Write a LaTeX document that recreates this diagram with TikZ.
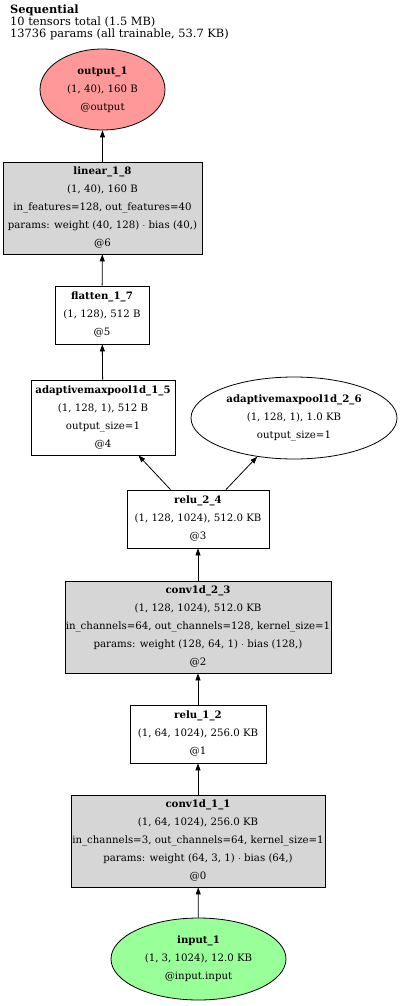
\documentclass[tikz,border=0pt]{standalone}
\usepackage{fontspec}
\setmainfont{DejaVu Serif}
\usetikzlibrary{arrows.meta,shapes.geometric}
\definecolor{fillOut}{HTML}{FF9999}
\definecolor{fillIn}{HTML}{99FF99}
\definecolor{fillParam}{HTML}{D6D6D6}
\definecolor{lineDark}{HTML}{000000}
\newcommand{\tline}[1]{\makebox[0pt]{#1}}

\begin{document}
\begin{tikzpicture}[x=1pt,y=-1pt,
          every node/.style={font=\fontsize{10.2pt}{18pt}\selectfont,
                             align=center,inner sep=0pt},
          layer/.style={draw=lineDark,line width=0.8pt,rectangle},
          paramlayer/.style={layer,fill=fillParam},
          tensor/.style={draw=lineDark,line width=0.8pt,ellipse},
          edge/.style={draw=lineDark,line width=0.8pt,
                       -{Triangle[length=7pt,width=5pt]}},
        ]
        \useasboundingbox (0,0) rectangle (400,1006);
        \node[anchor=north west,align=left,
              font=\fontsize{11.4pt}{12pt}\selectfont] (title) at (10,5)
             {\textbf{Sequential}\\10 tensors total (1.5 MB)\\13736 params (all trainable, 53.7 KB)};
        \node[tensor,fill=fillOut,minimum width=125pt,minimum height=81pt] (out1) at (102.5,89.5)
             {\tline{\textbf{output\_1}}\\\tline{(1, 40), 160 B}\\\tline{@output}};
        \node[paramlayer,minimum width=199pt,minimum height=92pt] (lin18) at (102.5,208)
             {\tline{\textbf{linear\_1\_8}}\\\tline{(1, 40), 160 B}\\\tline{in\_features=128, out\_features=40}\\
              \tline{params: weight (40, 128) $\cdot$ bias (40,)}\\\tline{@6}};
        \node[layer,minimum width=94pt,minimum height=58pt] (flat17) at (102,315)
             {\tline{\textbf{flatten\_1\_7}}\\\tline{(1, 128), 512 B}\\\tline{@5}};
        \node[layer,minimum width=144pt,minimum height=75pt] (amp15) at (103,417.5)
             {\tline{\textbf{adaptivemaxpool1d\_1\_5}}\\\tline{(1, 128, 1), 512 B}\\\tline{output\_size=1}\\\tline{@4}};
        \node[tensor,minimum width=206pt,minimum height=82pt] (amp26) at (294,418)
             {\tline{\textbf{adaptivemaxpool1d\_2\_6}}\\\tline{(1, 128, 1), 1.0 KB}\\\tline{output\_size=1}};
        \node[layer,minimum width=142pt,minimum height=58pt] (relu24) at (198,519)
             {\tline{\textbf{relu\_2\_4}}\\\tline{(1, 128, 1024), 512.0 KB}\\\tline{@3}};
        \node[paramlayer,minimum width=266pt,minimum height=92pt] (conv23) at (198,627)
             {\tline{\textbf{conv1d\_2\_3}}\\\tline{(1, 128, 1024), 512.0 KB}\\
              \tline{in\_channels=64, out\_channels=128, kernel\_size=1}\\
              \tline{params: weight (128, 64, 1) $\cdot$ bias (128,)}\\\tline{@2}};
        \node[layer,minimum width=136pt,minimum height=58pt] (relu12) at (198,734)
             {\tline{\textbf{relu\_1\_2}}\\\tline{(1, 64, 1024), 256.0 KB}\\\tline{@1}};
        \node[paramlayer,minimum width=254pt,minimum height=92pt] (conv11) at (198,841)
             {\tline{\textbf{conv1d\_1\_1}}\\\tline{(1, 64, 1024), 256.0 KB}\\
              \tline{in\_channels=3, out\_channels=64, kernel\_size=1}\\
              \tline{params: weight (64, 3, 1) $\cdot$ bias (64,)}\\\tline{@0}};
        \node[tensor,fill=fillIn,minimum width=175pt,minimum height=82pt] (in1) at (198.5,959)
             {\tline{\textbf{input\_1}}\\\tline{(1, 3, 1024), 12.0 KB}\\\tline{@input.input}};
        \draw[edge] (in1) -- (conv11);
        \draw[edge] (conv11) -- (relu12);
        \draw[edge] (relu12) -- (conv23);
        \draw[edge] (conv23) -- (relu24);
        \draw[edge] (relu24) -- (amp15);
        \draw[edge] (relu24) -- (amp26);
        \draw[edge] (amp15) -- (flat17);
        \draw[edge] (flat17) -- (lin18);
        \draw[edge] (lin18) -- (out1);
      \end{tikzpicture}
\end{document}
